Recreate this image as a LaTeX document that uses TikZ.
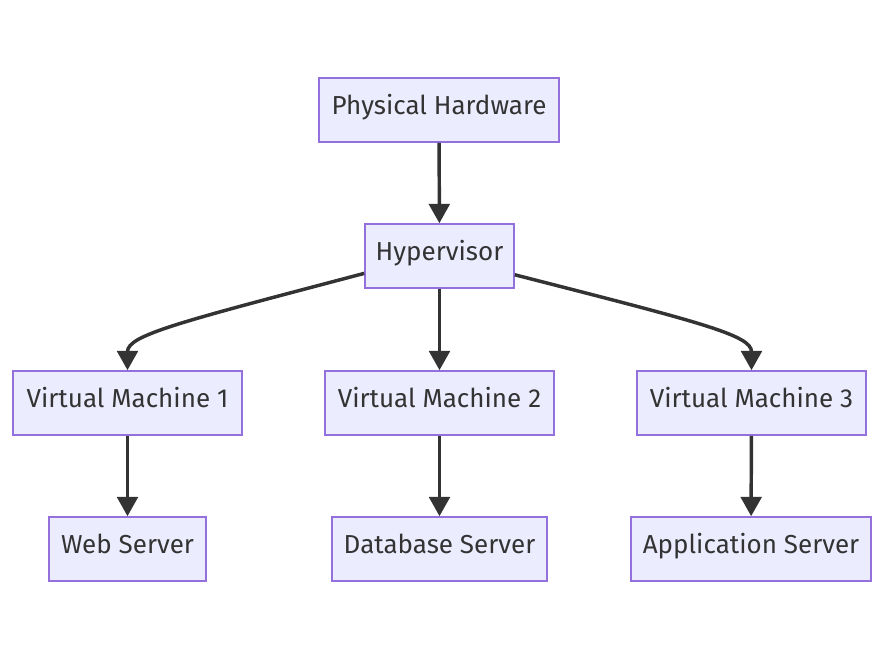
\documentclass[tikz,border=0pt]{standalone}
\usepackage{fontspec}
\setmainfont{Fira Sans}
\usetikzlibrary{arrows.meta}
\definecolor{boxfill}{HTML}{ECECFF}
\definecolor{boxline}{HTML}{9370DB}
\definecolor{linkcol}{HTML}{333333}
\tikzset{
  vbox/.style={draw=boxline, fill=boxfill, line width=1.2pt, minimum height=48pt,
    inner xsep=0pt, text height=13pt, text depth=7pt, text=linkcol,
    font=\fontsize{19.5}{22}\selectfont},
  link/.style={draw=linkcol, line width=2.6pt, -{Triangle[length=14.5pt,width=15.5pt]}}
}
\begin{document}
\begin{tikzpicture}[x=0.75pt,y=0.75pt,yscale=-1,xscale=1]
\useasboundingbox (0,0) rectangle (885,660);

% Nodes
\node[vbox, minimum width=180pt] (phys) at (439,110) {Physical Hardware};
\node[vbox, minimum width=111.75pt] (hyp) at (439.5,256) {Hypervisor};
\node[vbox, minimum width=171.75pt] (vm1) at (127.5,403) {Virtual Machine 1};
\node[vbox, minimum width=171.75pt] (vm2) at (439.5,403) {Virtual Machine 2};
\node[vbox, minimum width=171.75pt] (vm3) at (751.5,403) {Virtual Machine 3};
\node[vbox, minimum width=117.75pt] (web) at (127.5,549) {Web Server};
\node[vbox, minimum width=161.25pt] (db) at (439.5,549) {Database Server};
\node[vbox, minimum width=180pt] (app) at (751,549) {Application Server};

% Links
\draw[link] (phys) -- (hyp);
\draw[link] (hyp.193.6) .. controls (180,322) and (127.5,335) .. (vm1.north);
\draw[link] (hyp) -- (vm2);
\draw[link] (hyp.346.4) .. controls (699,322) and (751.5,335) .. (vm3.north);
\draw[link] (vm1) -- (web);
\draw[link] (vm2) -- (db);
\draw[link] (vm3) -- (app);

\end{tikzpicture}
\end{document}
